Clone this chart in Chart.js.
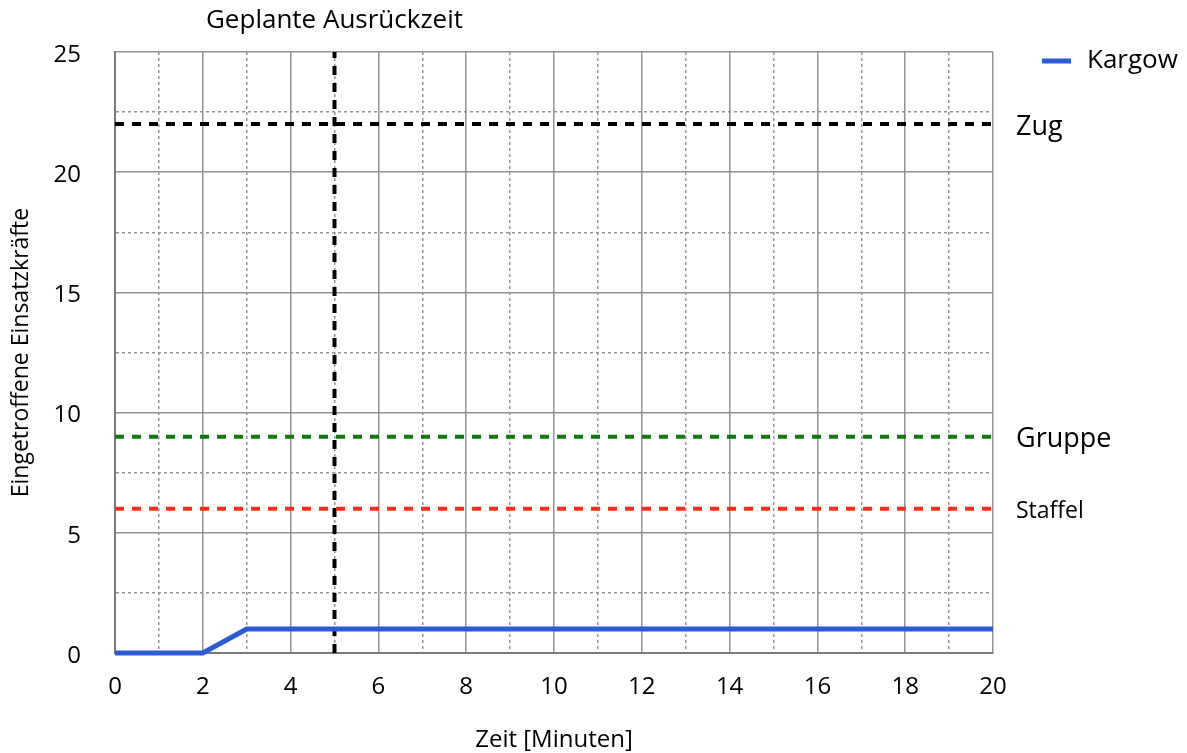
<!DOCTYPE html>
<html>
<head>
<meta charset="utf-8">
<script src="https://cdn.jsdelivr.net/npm/chart.js@4"></script>
<style>
  html, body { margin: 0; padding: 0; background: #fff; }
  #wrap { width: 1187px; height: 753px; }
</style>
</head>
<body>
<div id="wrap"><canvas id="chart" width="1187" height="753"></canvas></div>
<script>
// Daten
const zeitMinuten = [0, 2, 3, 20];
const kargowKraefte = [0, 0, 1, 1];
const schwellenNamen = ['Zug', 'Gruppe', 'Staffel'];
const schwellenWerte = [22, 9, 6];
const schwellenFarben = ['#000000', '#0b7a0b', '#ff2a1a'];
const ausrueckzeit = 5;
const xMin = 0, xMax = 20;
const yMin = 0, yMax = 25;

const FONT = "'Open Sans', 'Noto Sans', sans-serif";

const datasets = [{
    label: 'Kargow',
    data: zeitMinuten.map((x, i) => ({ x: x, y: kargowKraefte[i] })),
    borderColor: '#2b5bd6',
    borderWidth: 5,
    pointRadius: 0,
    tension: 0,
    clip: false
}];

schwellenNamen.forEach((name, i) => {
    datasets.push({
        label: name,
        data: [{ x: xMin, y: schwellenWerte[i] }, { x: xMax, y: schwellenWerte[i] }],
        borderColor: schwellenFarben[i],
        borderWidth: 4,
        borderDash: [9, 8],
        pointRadius: 0
    });
});

datasets.push({
    label: 'Geplante Ausrückzeit',
    data: [{ x: ausrueckzeit, y: yMin }, { x: ausrueckzeit, y: yMax }],
    borderColor: '#000000',
    borderWidth: 4,
    borderDash: [9, 8],
    pointRadius: 0
});

// Beschriftungen neben den Linien und eigene Legende
const labelPlugin = {
    id: 'labels',
    afterDraw(chart) {
        const ctx = chart.ctx;
        const xs = chart.scales.x, ys = chart.scales.y;
        const area = chart.chartArea;
        ctx.save();
        ctx.fillStyle = '#000';
        ctx.textBaseline = 'middle';
        ctx.textAlign = 'left';
        const sizes = [27, 27, 23];
        schwellenNamen.forEach((name, i) => {
            ctx.font = sizes[i] + 'px ' + FONT;
            ctx.fillText(name, area.right + 23, ys.getPixelForValue(schwellenWerte[i]) + 3);
        });
        // Titel der Ausrückzeit
        ctx.font = '26px ' + FONT;
        ctx.textAlign = 'center';
        ctx.fillText('Geplante Ausrückzeit', xs.getPixelForValue(ausrueckzeit), 21);
        // Legende
        ctx.strokeStyle = '#2b5bd6';
        ctx.lineWidth = 5;
        ctx.beginPath();
        ctx.moveTo(1042, 61);
        ctx.lineTo(1071, 61);
        ctx.stroke();
        ctx.font = '26px ' + FONT;
        ctx.textAlign = 'left';
        ctx.fillText('Kargow', 1087, 61);
        ctx.restore();
    }
};

const minorDash = (step) => (c) => {
    if (!c.tick) return [];
    return (Math.abs(c.tick.value / step - Math.round(c.tick.value / step)) < 1e-6) ? [] : [3, 3];
};

new Chart(document.getElementById('chart'), {
    type: 'line',
    data: { datasets: datasets },
    plugins: [labelPlugin],
    options: {
        responsive: false,
        animation: false,
        layout: { padding: { left: 4, right: 194, top: 52, bottom: 0 } },
        plugins: {
            legend: { display: false },
            tooltip: { enabled: false }
        },
        scales: {
            x: {
                type: 'linear',
                min: xMin,
                max: xMax,
                ticks: {
                    stepSize: 1,
                    autoSkip: false,
                    maxRotation: 0,
                    padding: 20,
                    color: '#000',
                    font: { family: FONT, size: 24 },
                    callback: (v) => (v % 2 === 0 ? String(v) : '')
                },
                grid: {
                    drawTicks: false,
                    color: '#939393',
                    lineWidth: 1.5
                },
                border: { display: true, color: '#7a7a7a', width: 2, dash: minorDash(2) },
                title: {
                    display: true,
                    text: 'Zeit [Minuten]',
                    color: '#000',
                    font: { family: FONT, size: 24 },
                    padding: { top: 20, bottom: -2 }
                },
                afterFit(scale) { scale.height = 100; }
            },
            y: {
                type: 'linear',
                min: yMin,
                max: yMax,
                ticks: {
                    stepSize: 2.5,
                    autoSkip: false,
                    padding: 34,
                    labelOffset: 3,
                    color: '#000',
                    font: { family: FONT, size: 24 },
                    callback: (v) => (v % 5 === 0 ? String(v) : '')
                },
                grid: {
                    drawTicks: false,
                    color: '#939393',
                    lineWidth: 1.5
                },
                border: { display: true, color: '#7a7a7a', width: 2, dash: minorDash(5) },
                title: {
                    display: true,
                    text: 'Eingetroffene Einsatzkräfte',
                    color: '#000',
                    font: { family: FONT, size: 23 },
                    padding: { bottom: 0 }
                },
                afterFit(scale) { scale.width = 111; }
            }
        }
    }
});
</script>
</body>
</html>
